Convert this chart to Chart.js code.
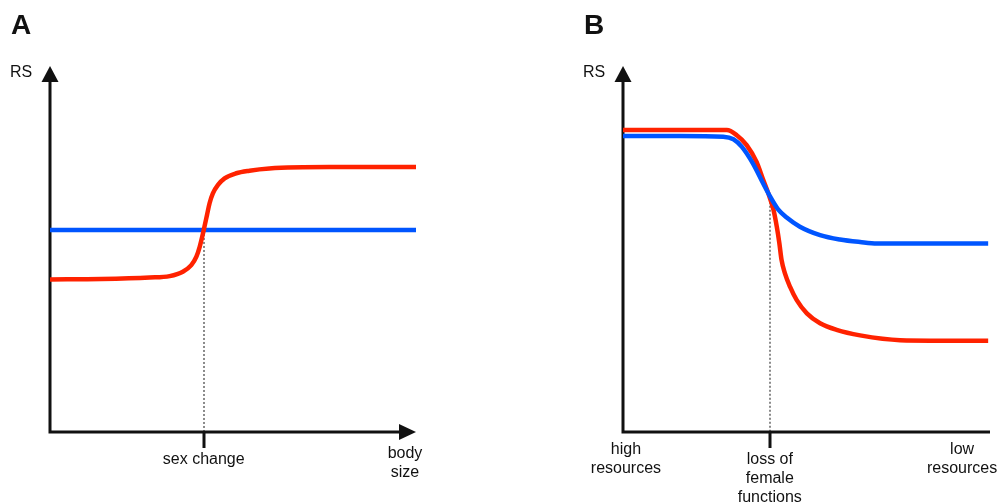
<!DOCTYPE html>
<html>
<head>
<meta charset="utf-8">
<script src="https://cdn.jsdelivr.net/npm/chart.js@4/dist/chart.umd.min.js"></script>
<style>
  html, body { margin: 0; padding: 0; background: #fff; }
  #wrap { position: relative; width: 997px; height: 504px; overflow: hidden; }
  .panel { position: absolute; top: 0; height: 504px; }
  #panelA { left: 0; width: 500px; }
  #panelB { left: 500px; width: 497px; }
</style>
</head>
<body>
<div id="wrap">
  <div class="panel" id="panelA"><canvas id="chartA"></canvas></div>
  <div class="panel" id="panelB"><canvas id="chartB"></canvas></div>
</div>
<script>
// arbitrary units: x runs 0..100 along the axis, y 0..100 is RS

// panel A - RS against body size
const redAX = [0, 14, 27.2, 32.7, 36.3, 38.6, 40.0, 40.9, 41.6, 42.2, 42.9, 43.6, 44.5, 45.9, 47.7, 50.9, 54.5, 59.9, 76.3, 100];
const redAY = [41.7, 41.8, 42.2, 42.6, 43.8, 45.6, 47.9, 50.6, 53.4, 56.1, 59.3, 62.5, 65.2, 67.5, 69.3, 70.7, 71.4, 72.0, 72.4, 72.4];
const blueAX = [0, 100];
const blueAY = [55.2, 55.2];
const sexChange = 42;
const tickValsA = [42, 97];
const tickTextA = [["sex change"], ["body", "size"]];

// panel B - RS from high to low resources
const redBX = [0, 15.5, 28.3, 31.0, 33.7, 36.4, 38.2, 39.6, 41.0, 41.9, 42.6, 43.2, 44.1, 45.5, 47.3, 50.1, 53.7, 58.2, 64.6, 75.5, 99.5];
const redBY = [82.5, 82.5, 82.5, 81.1, 78.4, 73.8, 68.9, 65.2, 60.7, 56.1, 51.6, 47.0, 43.4, 39.7, 36.1, 32.4, 29.7, 27.9, 26.4, 25.1, 24.9];
const blueBX = [0, 15.5, 27.3, 30.1, 32.4, 35.5, 38.2, 40.1, 42.2, 44.6, 48.2, 53.7, 59.1, 64.6, 69.2, 99.5];
const blueBY = [80.9, 80.9, 80.7, 80.0, 77.9, 73.2, 67.9, 64.3, 60.9, 58.6, 56.1, 53.8, 52.6, 51.9, 51.5, 51.5];
const lossOfFemale = 40;
const tickValsB = [0.8, 40, 92.4];
const tickTextB = [["high", "resources"], ["loss of", "female", "functions"], ["low", "resources"]];

const RED = "rgb(255, 34, 0)";
const BLUE = "rgb(0, 85, 255)";
const FONT = "'Liberation Sans', Arial, Helvetica, sans-serif";

function pts(xs, ys) {
    return xs.map((x, i) => ({ x: x, y: ys[i] }));
}

function curve(xs, ys, color, order) {
    return {
        data: pts(xs, ys),
        borderColor: color,
        borderWidth: 4.5,
        pointRadius: 0,
        fill: false,
        cubicInterpolationMode: "monotone",
        borderCapStyle: "butt",
        order: order,
    };
}

// axes with arrowheads, dotted guide, tick mark and all the text
const decor = {
    id: "decor",
    beforeDatasetsDraw(chart, args, o) {
        const ctx = chart.ctx, a = chart.chartArea;
        const x = chart.scales.x, y = chart.scales.y;
        ctx.save();
        let gx = Math.round(x.getPixelForValue(o.mark));
        ctx.strokeStyle = "#8a8a8a";
        ctx.lineWidth = 2;
        ctx.setLineDash([2, 2]);
        ctx.beginPath();
        ctx.moveTo(gx, y.getPixelForValue(o.markY));
        ctx.lineTo(gx, a.bottom);
        ctx.stroke();
        ctx.setLineDash([]);

        ctx.strokeStyle = "#111";
        ctx.fillStyle = "#111";
        ctx.lineWidth = 3;
        ctx.beginPath();
        ctx.moveTo(a.left, a.top + 12);
        ctx.lineTo(a.left, a.bottom);
        ctx.lineTo(o.xArrow ? a.right - 12 : a.right, a.bottom);
        ctx.stroke();
        // tick at the event
        ctx.beginPath();
        ctx.moveTo(gx, a.bottom);
        ctx.lineTo(gx, a.bottom + 16);
        ctx.stroke();
        // arrowheads
        ctx.beginPath();
        ctx.moveTo(a.left, a.top);
        ctx.lineTo(a.left - 8.5, a.top + 16);
        ctx.lineTo(a.left + 8.5, a.top + 16);
        ctx.closePath();
        ctx.fill();
        if (o.xArrow) {
            ctx.beginPath();
            ctx.moveTo(a.right, a.bottom);
            ctx.lineTo(a.right - 17, a.bottom - 8);
            ctx.lineTo(a.right - 17, a.bottom + 8);
            ctx.closePath();
            ctx.fill();
        }
        ctx.restore();
    },
    afterDraw(chart, args, o) {
        const ctx = chart.ctx, a = chart.chartArea, x = chart.scales.x;
        ctx.save();
        ctx.fillStyle = "#111";
        ctx.textBaseline = "alphabetic";
        ctx.textAlign = "left";
        ctx.font = "bold 28px " + FONT;
        ctx.fillText(o.letter, a.left - 39, 34);
        ctx.font = "16px " + FONT;
        ctx.fillText("RS", a.left - 40, 77);

        ctx.textAlign = "center";
        o.ticks.forEach((v, i) => {
            const lines = o.texts[i];
            const base = a.bottom + (v === o.mark ? 32 : o.plainGap);
            lines.forEach((t, j) => {
                ctx.fillText(t, x.getPixelForValue(v), base + j * 19);
            });
        });
        ctx.restore();
    },
};

function makeChart(id, datasets, pad, decorOpts) {
    return new Chart(document.getElementById(id), {
        type: "line",
        data: { datasets: datasets },
        options: {
            responsive: true,
            maintainAspectRatio: false,
            animation: false,
            layout: { padding: pad },
            scales: {
                x: { type: "linear", min: 0, max: 100, display: false },
                y: { min: 0, max: 100, display: false },
            },
            plugins: {
                legend: { display: false },
                tooltip: { enabled: false },
                decor: decorOpts,
            },
        },
        plugins: [decor],
    });
}

makeChart("chartA",
    [curve(redAX, redAY, RED, 0), curve(blueAX, blueAY, BLUE, 1)],
    { left: 50, right: 84, top: 66, bottom: 72 },
    { letter: "A", mark: sexChange, markY: 55.2, xArrow: true, ticks: tickValsA, texts: tickTextA, plainGap: 26 });

makeChart("chartB",
    [curve(redBX, redBY, RED, 1), curve(blueBX, blueBY, BLUE, 0)],
    { left: 123, right: 7, top: 66, bottom: 72 },
    { letter: "B", mark: lossOfFemale, markY: 64, xArrow: false, ticks: tickValsB, texts: tickTextB, plainGap: 22 });
</script>
</body>
</html>
